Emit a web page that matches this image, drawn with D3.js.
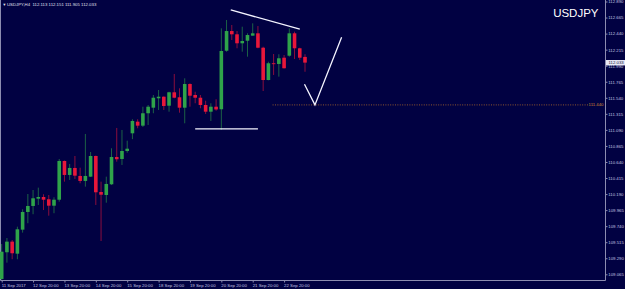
<!DOCTYPE html>
<meta charset="utf-8">
<style>
    html,
    body {
        margin: 0;
        padding: 0;
        background: #010142;
    }

    svg {
        display: block;
    }

    text {
        font-family: "Liberation Sans", Arial, sans-serif;
    }
</style>

<body>
    <svg width="625" height="289"></svg>
    <script src="https://cdn.jsdelivr.net/npm/d3@7/dist/d3.min.js"></script>
    <script>
        const symbol = 'USDJPY';
        const header = 'USDJPY,H4  112.113 112.151 111.905 112.033';

        // H4 bars, 11 Sep 2017 .. 22 Sep 2017
        const opens = [109.000, 109.374, 109.523, 109.354, 109.691, 109.939, 110.023, 110.125, 110.149, 110.117,
            110.027, 110.111, 110.654, 110.458, 110.556, 110.444, 110.374, 110.434, 110.724, 110.219,
            110.177, 110.327, 110.710, 110.682, 110.794, 111.042, 111.205, 111.149, 111.323, 111.401,
            111.533, 111.555, 111.429, 111.617, 111.547, 111.401, 111.733, 111.579, 111.541, 111.439,
            111.345, 111.415, 111.379, 112.200, 112.476, 112.430, 112.304, 112.340, 112.411, 112.444,
            112.242, 111.789, 112.024, 112.014, 112.102, 112.130, 112.444, 112.234, 112.113];
        const highs = [109.490, 109.574, 109.546, 109.733, 109.977, 110.191, 110.247, 110.280, 110.187, 110.177,
            110.145, 110.682, 110.660, 110.612, 110.724, 110.560, 111.033, 110.780, 110.730, 110.364,
            110.434, 110.832, 111.117, 111.089, 110.939, 111.239, 111.239, 111.415, 111.439, 111.579,
            111.649, 111.560, 111.625, 111.874, 111.673, 111.813, 111.743, 111.625, 111.579, 111.499,
            111.463, 111.519, 112.514, 112.631, 112.561, 112.476, 112.537, 112.444, 112.584, 112.546,
            112.256, 112.046, 112.154, 112.150, 112.140, 112.514, 112.467, 112.242, 112.151];
        const lows = [108.986, 109.228, 109.276, 109.276, 109.649, 109.781, 109.907, 110.037, 109.967, 109.887,
            109.921, 110.083, 110.364, 110.388, 110.402, 110.341, 110.294, 110.430, 110.037, 109.532,
            110.069, 110.318, 110.644, 110.598, 110.770, 110.960, 111.112, 111.131, 111.159, 111.323,
            111.369, 111.369, 111.345, 111.533, 111.331, 111.182, 111.415, 111.463, 111.393, 111.313,
            111.215, 111.359, 111.089, 112.186, 112.350, 112.234, 112.186, 112.116, 112.411, 112.234,
            111.635, 111.785, 111.860, 111.836, 111.950, 112.116, 112.084, 112.070, 111.905];
        const closes = [109.382, 109.523, 109.360, 109.696, 109.939, 110.023, 110.131, 110.149, 110.111, 110.027,
            110.111, 110.654, 110.458, 110.556, 110.448, 110.374, 110.444, 110.724, 110.215, 110.181,
            110.332, 110.710, 110.678, 110.794, 110.826, 111.215, 111.149, 111.323, 111.415, 111.541,
            111.555, 111.425, 111.617, 111.541, 111.401, 111.733, 111.569, 111.541, 111.439, 111.345,
            111.415, 111.376, 112.196, 112.476, 112.430, 112.304, 112.336, 112.420, 112.444, 112.242,
            111.789, 112.024, 112.014, 112.094, 111.954, 112.444, 112.234, 112.102, 112.033];

        const priceTicks = ['109.065', '109.290', '109.515', '109.740', '109.965', '110.190', '110.415', '110.640',
            '110.865', '111.090', '111.315', '111.540', '111.765', '111.990', '112.215', '112.440', '112.665', '112.890'];
        const timeTicks = [0, 6, 12, 18, 24, 30, 36, 42, 48, 54];
        const timeLabels = ['11 Sep 2017', '12 Sep 20:00', '13 Sep 20:00', '14 Sep 20:00', '15 Sep 20:00',
            '18 Sep 20:00', '19 Sep 20:00', '20 Sep 20:00', '21 Sep 20:00', '22 Sep 20:00'];

        const lastPrice = 112.033;
        const levelPrice = 111.440;
        const levelFrom = 51.8;
        // hand drawn lines: [bar, price]
        const trendTop = [[43.8, 112.771], [57.0, 112.504]];
        const support = [[37.0, 111.103], [49.0, 111.103]];
        const vShape = [[57.9, 111.729], [59.9, 111.440], [65.0, 112.388]];

        const width = 625;
        const height = 289;
        const axisX = 605.5;
        const axisY = 280.5;
        const frameColor = '#8c8cb0';
        const textColor = '#c4c4e0';
        const up = '#2fa34a';
        const down = '#e8173a';

        const svg = d3.select('svg');
        const n = opens.length;

        const x = d3.scaleLinear().domain([0, n - 1]).range([1.7, 305]);
        const y = d3.scaleLinear().domain([+priceTicks[0], +priceTicks[priceTicks.length - 1]]).range([274.3, 1.5]);

        // frame
        svg.append('path')
            .attr('d', `M0.5,0V${axisY}H${axisX}V0`)
            .attr('fill', 'none')
            .attr('stroke', frameColor);

        const bars = d3.range(n).map(i => ({ i, o: opens[i], h: highs[i], l: lows[i], c: closes[i] }));

        const g = svg.append('g');
        g.selectAll('line.wick')
            .data(bars)
            .join('line')
            .attr('class', 'wick')
            .attr('x1', d => x(d.i))
            .attr('x2', d => x(d.i))
            .attr('y1', d => y(d.h))
            .attr('y2', d => y(d.l))
            .attr('stroke', d => d.c >= d.o ? up : down)
            .attr('stroke-opacity', 0.6)
            .attr('stroke-width', 1);

        g.selectAll('rect.body')
            .data(bars)
            .join('rect')
            .attr('class', 'body')
            .attr('x', d => x(d.i) - 1.8)
            .attr('width', 3.6)
            .attr('y', d => y(Math.max(d.o, d.c)))
            .attr('height', d => Math.max(0.9, Math.abs(y(d.o) - y(d.c))))
            .attr('fill', d => d.c >= d.o ? up : down);

        // level line
        svg.append('line')
            .attr('x1', x(levelFrom))
            .attr('x2', 589)
            .attr('y1', y(levelPrice))
            .attr('y2', y(levelPrice))
            .attr('stroke', '#b8702a')
            .attr('stroke-width', 0.8)
            .attr('stroke-dasharray', '1,1.4');
        svg.append('text')
            .attr('x', 603.5)
            .attr('y', y(levelPrice))
            .attr('dy', '0.35em')
            .attr('text-anchor', 'end')
            .attr('font-size', 4.3)
            .attr('fill', '#d08a36')
            .text(levelPrice.toFixed(3));

        // drawn lines
        const line = d3.line().x(d => x(d[0])).y(d => y(d[1]));
        [trendTop, support, vShape].forEach(pts => {
            svg.append('path')
                .attr('d', line(pts))
                .attr('fill', 'none')
                .attr('stroke', '#f4f4ff')
                .attr('stroke-width', 1.3);
        });

        // price axis
        const yAxis = svg.append('g')
            .attr('transform', `translate(${axisX},0)`)
            .call(d3.axisRight(y)
                .tickValues(priceTicks.map(Number))
                .tickSize(2)
                .tickPadding(0.8)
                .tickFormat(d3.format('.3f')));
        yAxis.select('.domain').remove();
        yAxis.selectAll('line').attr('stroke', frameColor);
        yAxis.selectAll('text')
            .attr('font-size', 4.3)
            .attr('font-family', null)
            .attr('fill', textColor);

        // time axis
        const xAxis = svg.append('g')
            .attr('transform', `translate(0,${axisY})`)
            .call(d3.axisBottom(x)
                .tickValues(timeTicks)
                .tickSize(2)
                .tickFormat((d, i) => timeLabels[i]));
        xAxis.select('.domain').remove();
        xAxis.selectAll('line').attr('stroke', frameColor);
        xAxis.selectAll('text')
            .attr('font-size', 4.3)
            .attr('font-family', null)
            .attr('text-anchor', 'start')
            .attr('x', -0.5)
            .attr('y', 3)
            .attr('fill', textColor);

        // last price marker
        const ly = y(lastPrice);
        svg.append('rect')
            .attr('x', axisX + 0.5)
            .attr('y', ly - 2.6)
            .attr('width', width - axisX)
            .attr('height', 5.4)
            .attr('fill', '#e8e8f4');
        svg.append('text')
            .attr('x', axisX + 3)
            .attr('y', ly)
            .attr('dy', '0.35em')
            .attr('font-size', 4.3)
            .attr('fill', '#101040')
            .text(lastPrice.toFixed(3));

        // header
        svg.append('text')
            .attr('x', 2.5)
            .attr('y', 5.6)
            .attr('font-size', 3.8)
            .attr('fill', '#e0e0f0')
            .text('▼');
        svg.append('text')
            .attr('x', 7)
            .attr('y', 5.6)
            .attr('font-size', 4.3)
            .attr('fill', '#e0e0f0')
            .attr('xml:space', 'preserve')
            .text(header);

        svg.append('text')
            .attr('x', 598.5)
            .attr('y', 16.7)
            .attr('text-anchor', 'end')
            .attr('font-size', 11.5)
            .attr('fill', '#ffffff')
            .text(symbol);
    </script>
</body>

</html>
